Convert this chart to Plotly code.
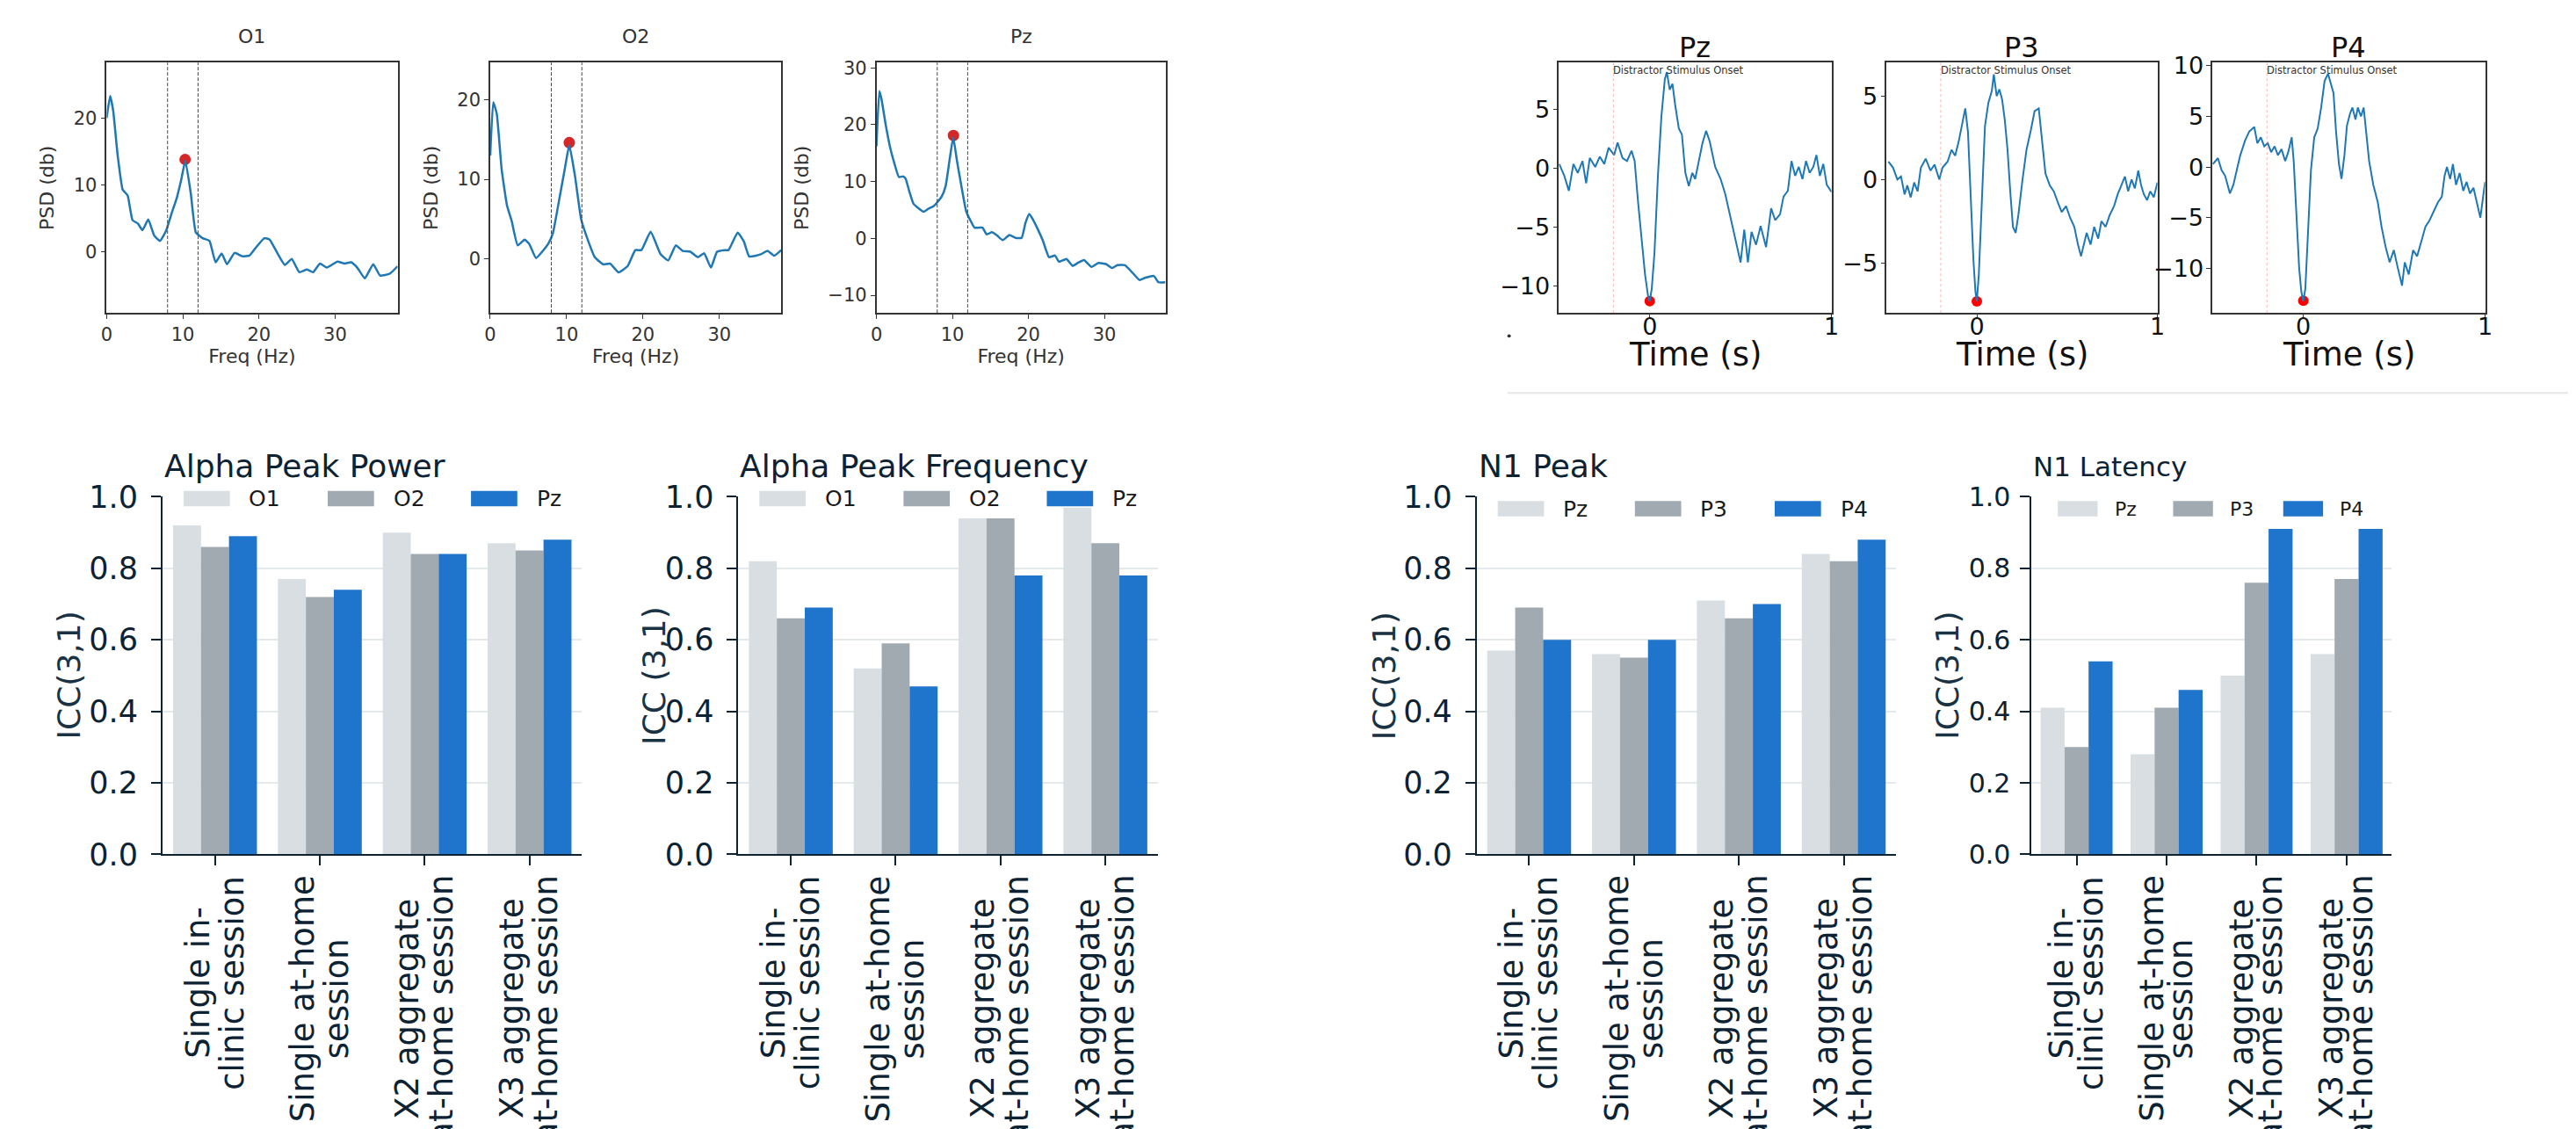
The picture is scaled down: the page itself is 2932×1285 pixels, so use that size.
import plotly.graph_objects as go

W, H = 2932, 1285

# ---------------- data: PSD (Freq Hz, dB) ----------------
psd_channels = ["O1", "O2", "Pz"]
psd_o1 = [(0, 20.0), (0.46, 23.3), (0.86, 21.1), (1.45, 14.4), (2.1, 9.3), (2.76, 8.4), (3.4, 4.7),
          (4.1, 4.2), (4.7, 3.2), (5.46, 4.8), (6.25, 2.4), (7.0, 1.6), (7.8, 3.1), (8.55, 5.8),
          (9.2, 8.0), (9.8, 10.8), (10.33, 13.6), (11.05, 8.7), (11.7, 2.9), (12.6, 2.0), (13.5, 1.6),
          (14.3, -1.6), (15.1, -0.3), (15.8, -1.9), (16.8, -0.2), (17.8, -0.7), (18.75, -0.6),
          (19.6, 0.6), (20.7, 2.0), (21.4, 1.8), (22.4, -0.2), (23.4, -2.0), (24.3, -1.1),
          (25.3, -3.1), (26.3, -2.7), (27.1, -3.1), (28.0, -1.8), (28.9, -2.4), (30.3, -1.5),
          (31.25, -1.8), (32.1, -1.6), (32.9, -2.4), (33.9, -4.0), (35.0, -1.9), (35.9, -3.6),
          (37.2, -3.3), (38.2, -2.2)]
psd_o2 = [(0, 13.0), (0.4, 19.7), (0.86, 18.2), (1.5, 11.2), (2.2, 6.7), (2.8, 4.8), (3.6, 1.7),
          (4.5, 2.4), (5.1, 1.9), (6.0, 0.1), (6.8, 0.9), (7.6, 1.9), (8.2, 3.2), (9.1, 7.8),
          (9.8, 11.5), (10.35, 14.3), (11.1, 10.4), (11.9, 5.0), (12.7, 2.6), (13.7, 0.2),
          (14.8, -0.7), (15.7, -0.6), (16.8, -1.7), (18.0, -0.9), (19.0, 1.1), (19.8, 1.1),
          (21.0, 3.4), (22.3, 0.6), (23.3, -0.2), (24.3, 1.7), (25.2, 1.0), (26.2, 0.9),
          (27.2, 0.2), (28.0, 0.7), (28.9, -1.1), (29.7, 0.9), (30.7, 1.1), (31.2, 1.1),
          (32.4, 3.3), (33.2, 2.2), (33.9, 0.3), (34.8, 0.4), (35.5, 0.6), (36.3, 1.0),
          (37.2, 0.4), (38.1, 1.1)]
psd_pz = [(0, 16.2), (0.38, 25.9), (0.65, 24.6), (1.23, 19.9), (1.8, 16.0), (2.38, 13.1),
          (2.95, 10.8), (3.53, 10.9), (3.84, 10.5), (4.3, 8.4), (4.87, 6.1), (5.45, 5.4),
          (6.2, 4.7), (6.8, 5.2), (7.55, 5.7), (8.0, 6.35), (8.6, 7.4), (9.1, 9.2), (9.6, 13.6),
          (10.1, 17.8), (10.6, 13.6), (11.2, 9.0), (11.8, 4.8), (12.35, 3.2), (12.9, 1.9),
          (13.5, 1.9), (13.96, 1.9), (14.5, 0.7), (15.2, 1.1), (15.8, 0.6), (16.6, -0.3),
          (17.5, 0.6), (18.3, 0.1), (19.1, 0.1), (19.6, 2.7), (20.1, 4.3), (20.6, 3.3),
          (21.2, 1.7), (21.9, -0.4), (22.7, -3.3), (23.5, -3.0), (24.0, -4.1), (25.0, -3.6),
          (25.8, -4.8), (26.5, -4.3), (27.3, -3.8), (28.3, -5.0), (29.2, -4.3), (30.2, -4.5),
          (31.0, -5.2), (31.7, -4.7), (32.7, -4.7), (33.6, -5.9), (34.6, -7.3), (35.4, -6.9),
          (36.5, -6.6), (37.1, -7.7), (38.0, -7.7)]
psd_peak_freq = [10.3, 10.35, 10.13]
psd_peak_db = [13.8, 14.6, 18.1]
alpha_band = [8, 12]
psd_xrange = [[0, 38.2], [0, 38.1], [0, 38.05]]
psd_yrange = [[-9.2, 28.3], [-6.8, 24.65], [-13.1, 30.9]]

# ---------------- data: ERP (time s, amplitude) ----------------
erp_channels = ["Pz", "P3", "P4"]
erp_pz = [(-0.498, 0.38), (-0.47, -0.63), (-0.445, -1.9), (-0.42, 0.38), (-0.396, -0.38),
          (-0.37, 0.63), (-0.35, -1.27), (-0.33, 0.89), (-0.30, 0.13), (-0.275, 1.0),
          (-0.25, 0.38), (-0.226, 1.77), (-0.196, 1.14), (-0.177, 2.2), (-0.15, 0.89),
          (-0.125, 0.63), (-0.10, 1.5), (-0.083, 0.63), (-0.064, -2.9), (-0.045, -5.9),
          (-0.026, -9.0), (-0.008, -11.0), (0.0, -11.3), (0.011, -10.25), (0.026, -7.2),
          (0.045, -0.63), (0.064, 4.4), (0.083, 7.6), (0.094, 8.2), (0.11, 6.7), (0.125, 7.2),
          (0.14, 5.4), (0.16, 3.4), (0.177, 2.9), (0.196, -0.38), (0.215, -1.5), (0.234, -0.38),
          (0.25, -0.9), (0.27, 0.63), (0.29, 2.15), (0.31, 3.2), (0.33, 2.3), (0.36, 0.13),
          (0.39, -0.9), (0.415, -2.15), (0.44, -3.9), (0.47, -5.9), (0.50, -8.0), (0.52, -5.2),
          (0.54, -8.0), (0.56, -5.4), (0.585, -6.5), (0.61, -4.9), (0.64, -6.7), (0.668, -3.4),
          (0.69, -4.4), (0.717, -3.9), (0.736, -2.4), (0.76, -1.9), (0.78, 0.63), (0.80, -0.63),
          (0.82, 0.13), (0.84, -0.9), (0.86, 0.63), (0.88, -0.38), (0.90, 0.13), (0.917, 1.14),
          (0.936, -0.63), (0.955, 0.38), (0.974, -1.4), (1.0, -2.0)]
erp_p3 = [(-0.49, 1.07), (-0.464, 0.71), (-0.44, 0.0), (-0.42, 0.18), (-0.40, -0.89),
          (-0.385, -0.36), (-0.366, -1.07), (-0.347, -0.18), (-0.328, -0.71), (-0.31, 0.71),
          (-0.283, 1.24), (-0.257, 0.53), (-0.234, 0.89), (-0.208, 0.0), (-0.19, 0.71),
          (-0.162, 1.07), (-0.14, 1.78), (-0.12, 1.42), (-0.10, 2.3), (-0.083, 3.2),
          (-0.064, 4.26), (-0.049, 2.84), (-0.034, -1.42), (-0.019, -4.8), (-0.0075, -6.75),
          (0.0, -7.3), (0.011, -5.7), (0.026, -1.42), (0.045, 3.2), (0.064, 4.6), (0.083, 5.3),
          (0.094, 6.3), (0.11, 5.0), (0.125, 5.4), (0.14, 4.8), (0.155, 3.55), (0.17, 1.78),
          (0.185, -0.71), (0.2, -2.84), (0.215, -3.2), (0.23, -2.13), (0.253, 0.0),
          (0.275, 1.78), (0.30, 3.0), (0.32, 4.1), (0.343, 4.26), (0.358, 2.66), (0.38, 0.36),
          (0.404, -0.36), (0.426, -0.71), (0.45, -1.42), (0.47, -1.95), (0.494, -1.6),
          (0.517, -2.3), (0.54, -2.84), (0.56, -3.9), (0.577, -4.6), (0.592, -3.9),
          (0.608, -3.2), (0.63, -3.9), (0.65, -2.84), (0.672, -3.55), (0.69, -2.5),
          (0.713, -2.84), (0.736, -2.13), (0.76, -1.6), (0.78, -0.89), (0.80, -0.36),
          (0.82, 0.18), (0.838, -0.71), (0.857, 0.0), (0.875, -0.53), (0.894, 0.53),
          (0.91, -0.36), (0.925, -0.89), (0.943, -1.24), (0.96, -0.71), (0.98, -1.07),
          (1.0, -0.18)]
erp_p4 = [(-0.498, 0.29), (-0.47, 0.88), (-0.45, -0.29), (-0.43, -0.88), (-0.404, -2.6),
          (-0.385, -1.76), (-0.366, -0.29), (-0.347, 1.17), (-0.32, 2.64), (-0.298, 3.5),
          (-0.27, 3.96), (-0.253, 2.35), (-0.234, 2.93), (-0.215, 2.05), (-0.196, 2.35),
          (-0.177, 1.47), (-0.158, 2.05), (-0.14, 1.17), (-0.12, 1.76), (-0.10, 0.59),
          (-0.083, 1.47), (-0.064, 2.93), (-0.053, 0.59), (-0.038, -5.3), (-0.023, -9.97),
          (-0.011, -12.3), (0.0, -13.25), (0.011, -12.0), (0.026, -6.2), (0.042, -0.29),
          (0.06, 2.93), (0.079, 3.8), (0.098, 5.87), (0.117, 8.5), (0.136, 9.2), (0.15, 8.2),
          (0.166, 7.3), (0.18, 3.5), (0.196, 0.29), (0.21, -1.17), (0.226, 1.17), (0.24, 4.1),
          (0.257, 5.28), (0.27, 5.87), (0.287, 4.7), (0.30, 5.87), (0.317, 5.0), (0.332, 5.87),
          (0.347, 3.5), (0.362, 0.59), (0.385, -1.76), (0.41, -3.5), (0.43, -5.87),
          (0.453, -7.9), (0.475, -9.4), (0.498, -8.2), (0.52, -9.97), (0.543, -11.7),
          (0.558, -9.4), (0.58, -10.6), (0.604, -8.2), (0.626, -8.8), (0.65, -7.3),
          (0.672, -5.87), (0.694, -5.28), (0.717, -4.4), (0.74, -3.5), (0.762, -2.93),
          (0.777, -0.88), (0.79, 0.0), (0.808, -1.17), (0.823, 0.29), (0.84, -1.76),
          (0.86, -0.59), (0.88, -2.35), (0.898, -1.47), (0.917, -2.6), (0.936, -2.05),
          (0.955, -3.5), (0.974, -5.0), (0.985, -3.5), (1.0, -1.47)]
n1_time = [0.0, 0.0, 0.0]
n1_amp = [-11.3, -7.3, -13.2]
onset_time = -0.2
onset_label = "Distractor Stimulus Onset"
erp_xrange = [-0.5, 1.0]
erp_yrange = [[-12.3, 9.0], [-8.0, 7.0], [-14.4, 10.3]]

# ---------------- data: ICC bar charts ----------------
sessions = ["Single in-\nclinic session", "Single at-home\nsession",
            "X2 aggregate\nat-home session", "X3 aggregate\nat-home session"]
apower_o1 = [0.92, 0.77, 0.90, 0.87]
apower_o2 = [0.86, 0.72, 0.84, 0.85]
apower_pz = [0.89, 0.74, 0.84, 0.88]
afreq_o1 = [0.82, 0.52, 0.94, 0.97]
afreq_o2 = [0.66, 0.59, 0.94, 0.87]
afreq_pz = [0.69, 0.47, 0.78, 0.78]
n1peak_pz = [0.57, 0.56, 0.71, 0.84]
n1peak_p3 = [0.69, 0.55, 0.66, 0.82]
n1peak_p4 = [0.60, 0.60, 0.70, 0.88]
n1lat_pz = [0.41, 0.28, 0.50, 0.56]
n1lat_p3 = [0.30, 0.41, 0.76, 0.77]
n1lat_p4 = [0.54, 0.46, 0.91, 0.91]
bar_titles = ["Alpha Peak Power", "Alpha Peak Frequency", "N1 Peak", "N1 Latency"]
bar_ylabels = ["ICC(3,1)", "ICC (3,1)", "ICC(3,1)", "ICC(3,1)"]
bar_series = [
    (["O1", "O2", "Pz"], [apower_o1, apower_o2, apower_pz]),
    (["O1", "O2", "Pz"], [afreq_o1, afreq_o2, afreq_pz]),
    (["Pz", "P3", "P4"], [n1peak_pz, n1peak_p3, n1peak_p4]),
    (["Pz", "P3", "P4"], [n1lat_pz, n1lat_p3, n1lat_p4]),
]

# ---------------- styling / layout ----------------
BAR_COLORS = ["#d8dee1", "#a1aab0", "#1f74cc"]
NAVY = "#0d2233"
LINE_BLUE = "#1f77b4"
FONT = "DejaVu Sans"

# DejaVu Sans advance widths (em) used to centre the rotated multi-line labels
GLYPH_EM = {"S": 0.635, "i": 0.278, "n": 0.634, "g": 0.635, "l": 0.278, "e": 0.615, " ": 0.318,
            "-": 0.361, "c": 0.550, "s": 0.521, "o": 0.612, "a": 0.613, "t": 0.392, "h": 0.634,
            "m": 0.974, "X": 0.684, "2": 0.636, "3": 0.636, "r": 0.411}


def text_px(s, size):
    return sum(GLYPH_EM.get(ch, 0.6) for ch in s) * size


def xd(a, b):
    return [a / W, b / W]


def yd(top, bottom):
    return [1 - bottom / H, 1 - top / H]


def px(v):
    return v / W


def py(v):
    return 1 - v / H


TOP_ROW = (53, 347)
psd_boxes = [(115, 448), (554, 887), (996, 1327)]
erp_boxes = [(1777, 2089), (2152, 2462), (2525, 2837)]
BAR_ROW = (563, 983)
bar_boxes = [(179, 659), (838, 1318), (1683, 2163), (2318, 2730)]
# the last panel of the source is horizontally squeezed: narrower horizontal text / spacing
hscale = [1.0, 1.0, 1.0, 0.86]
tick_font = [35, 35, 35, 30]
title_font = [36, 36, 36, 31]
legend_font = [25, 25, 25, 22]
ytick_standoff = [8, 8, 8, 5]
legend_offsets = [[24, 189, 353], [24, 189, 353], [24, 181, 341], [30, 162, 288]]
legend_ytop = [556, 556, 568, 568]
bar_ylabel_x = [72, 742, 1578, 2222]
label_top = 1012

layout = dict(width=W, height=H, margin=dict(l=0, r=0, t=0, b=0),
              paper_bgcolor="white", plot_bgcolor="white",
              font=dict(family=FONT, color="#222"), showlegend=False,
              barmode="group", bargap=0.2, bargroupgap=0)
shapes = []
annotations = []
fig = go.Figure()


def ax_name(i, axis):
    return axis + ("" if i == 1 else str(i))


# ---- PSD panels ----
psd_data = [psd_o1, psd_o2, psd_pz]
for k in range(3):
    i = k + 1
    xs = [p[0] for p in psd_data[k]]
    ys = [p[1] for p in psd_data[k]]
    fig.add_trace(go.Scatter(x=[psd_peak_freq[k]], y=[psd_peak_db[k]], mode="markers",
                             marker=dict(color="#d62728", size=13),
                             xaxis=ax_name(i, "x"), yaxis=ax_name(i, "y")))
    fig.add_trace(go.Scatter(x=xs, y=ys, mode="lines",
                             line=dict(color=LINE_BLUE, width=2.5, shape="spline", smoothing=0.4),
                             xaxis=ax_name(i, "x"), yaxis=ax_name(i, "y")))
    common = dict(showline=True, mirror=True, linecolor="#333", linewidth=1.5,
                  ticks="outside", ticklen=5, tickcolor="#333",
                  tickfont=dict(size=21, color="#333"), showgrid=False, zeroline=False)
    layout[ax_name(i, "xaxis")] = dict(common, domain=xd(*psd_boxes[k]), range=psd_xrange[k],
                                       tickvals=[0, 10, 20, 30], anchor=ax_name(i, "y"),
                                       title=dict(text="Freq (Hz)", font=dict(size=22, color="#333"),
                                                  standoff=4))
    layout[ax_name(i, "yaxis")] = dict(common, domain=yd(*TOP_ROW), range=psd_yrange[k],
                                       dtick=10, anchor=ax_name(i, "x"),
                                       title=dict(text="PSD (db)", font=dict(size=22, color="#333"),
                                                  standoff=16))
    for f in alpha_band:
        shapes.append(dict(type="line", xref=ax_name(i, "x"), yref=ax_name(i, "y") + " domain",
                           x0=f, x1=f, y0=0, y1=1,
                           line=dict(color="#444", width=1, dash="4px,2px")))
    annotations.append(dict(text=psd_channels[k], xref="paper", yref="paper",
                            x=px((psd_boxes[k][0] + psd_boxes[k][1]) / 2), y=py(22),
                            xanchor="center", yanchor="middle", showarrow=False,
                            font=dict(size=22, color="#333")))

# ---- ERP panels ----
erp_data = [erp_pz, erp_p3, erp_p4]
for k in range(3):
    i = k + 4
    xs = [p[0] for p in erp_data[k]]
    ys = [p[1] for p in erp_data[k]]
    fig.add_trace(go.Scatter(x=[n1_time[k]], y=[n1_amp[k]], mode="markers",
                             marker=dict(color="#ff0000", size=12),
                             xaxis=ax_name(i, "x"), yaxis=ax_name(i, "y")))
    fig.add_trace(go.Scatter(x=xs, y=ys, mode="lines", line=dict(color=LINE_BLUE, width=2),
                             xaxis=ax_name(i, "x"), yaxis=ax_name(i, "y")))
    common = dict(showline=True, mirror=True, linecolor="#333", linewidth=1.5,
                  ticks="outside", ticklen=5, tickcolor="#333",
                  tickfont=dict(size=27, color="#111"), showgrid=False, zeroline=False)
    layout[ax_name(i, "xaxis")] = dict(common, domain=xd(*erp_boxes[k]), range=erp_xrange,
                                       tickvals=[0, 1], anchor=ax_name(i, "y"),
                                       ticklabelstandoff=-14)
    layout[ax_name(i, "yaxis")] = dict(common, domain=yd(*TOP_ROW), range=erp_yrange[k],
                                       dtick=5, anchor=ax_name(i, "x"), ticklabelstandoff=-2)
    shapes.append(dict(type="line", xref=ax_name(i, "x"), yref=ax_name(i, "y") + " domain",
                       x0=onset_time, x1=onset_time, y0=0, y1=1,
                       line=dict(color="rgba(240,120,120,0.55)", width=1, dash="dot")))
    annotations.append(dict(text=onset_label, xref=ax_name(i, "x"), yref=ax_name(i, "y") + " domain",
                            x=onset_time, y=1, xanchor="left", yanchor="top", showarrow=False,
                            xshift=-2, font=dict(size=11.5, color="#333")))
    cx = px((erp_boxes[k][0] + erp_boxes[k][1]) / 2)
    annotations.append(dict(text=erp_channels[k], xref="paper", yref="paper", x=cx, y=py(35),
                            xanchor="center", yanchor="middle", showarrow=False,
                            font=dict(size=32, color="#111")))
    annotations.append(dict(text="Time (s)", xref="paper", yref="paper", x=cx, y=py(396),
                            xanchor="center", yanchor="middle", showarrow=False,
                            font=dict(size=37, color="#111")))

# separator line and stray dot from the source figure
shapes.append(dict(type="line", xref="paper", yref="paper", x0=px(1718), x1=1, y0=py(441), y1=py(441),
                   line=dict(color="#e6e6e6", width=2)))
shapes.append(dict(type="circle", xref="paper", yref="paper", x0=px(1718), x1=px(1722),
                   y0=py(376), y1=py(372), fillcolor="#333", line=dict(width=0)))

# ---- ICC bar charts ----
for k in range(4):
    i = k + 7
    sc = hscale[k]
    names, series = bar_series[k]
    for s in range(3):
        fig.add_trace(go.Bar(x=sessions, y=series[s], name=names[s],
                             marker=dict(color=BAR_COLORS[s], line=dict(width=0)),
                             xaxis=ax_name(i, "x"), yaxis=ax_name(i, "y")))
    layout[ax_name(i, "xaxis")] = dict(domain=xd(*bar_boxes[k]), type="category",
                                       range=[-0.5, 3.5], showticklabels=False,
                                       showline=True, linecolor=NAVY, linewidth=2,
                                       ticks="outside", ticklen=11, tickwidth=2, tickcolor=NAVY,
                                       showgrid=False, zeroline=False, anchor=ax_name(i, "y"))
    layout[ax_name(i, "yaxis")] = dict(domain=yd(*BAR_ROW), range=[0, 1.0],
                                       tickvals=[0, 0.2, 0.4, 0.6, 0.8, 1.0], tickformat=".1f",
                                       showline=True, linecolor=NAVY, linewidth=2,
                                       ticks="outside", ticklen=11, tickwidth=2, tickcolor=NAVY,
                                       ticklabelstandoff=ytick_standoff[k],
                                       tickfont=dict(size=tick_font[k], color=NAVY),
                                       showgrid=True, gridcolor="#e4e9eb", gridwidth=2,
                                       zeroline=False, anchor=ax_name(i, "x"))
    left = bar_boxes[k][0]
    # y-axis title
    annotations.append(dict(text=bar_ylabels[k], xref="paper", yref="paper",
                            x=px(bar_ylabel_x[k]), y=py(sum(BAR_ROW) / 2),
                            xanchor="center", yanchor="middle", textangle=-90, showarrow=False,
                            font=dict(size=36, color="#1a3344")))
    annotations.append(dict(text=bar_titles[k], xref="paper", yref="paper", x=px(left), y=py(527),
                            xanchor="left", yanchor="middle", showarrow=False,
                            font=dict(size=title_font[k], color=NAVY)))
    # legend (patch + label) drawn inside the top of the axes
    for s in range(3):
        x0 = left + legend_offsets[k][s]
        yt = legend_ytop[k]
        shapes.append(dict(type="rect", xref="paper", yref="paper", x0=px(x0), x1=px(x0 + 53 * sc),
                           y0=py(yt + 18), y1=py(yt), fillcolor=BAR_COLORS[s], line=dict(width=0)))
        annotations.append(dict(text=names[s], xref="paper", yref="paper", x=px(x0 + 73 * sc),
                                y=py(yt + 9), xanchor="left", yanchor="middle", showarrow=False,
                                font=dict(size=legend_font[k], color="#1a1a1a")))
    # rotated, centred multi-line category labels (one annotation per line)
    fsize = 37
    line_gap = 39 * sc
    for cat in sessions:
        lines = cat.split("\n")
        longest = max(text_px(ln, fsize) for ln in lines)
        ycenter = label_top + longest / 2
        for j, ln in enumerate(lines):
            annotations.append(dict(text=ln, xref=ax_name(i, "x"), x=cat,
                                    xshift=(j - (len(lines) - 1) / 2) * line_gap,
                                    yref="paper", y=py(ycenter), xanchor="center", yanchor="middle",
                                    textangle=-90, showarrow=False,
                                    font=dict(size=fsize, color=NAVY)))

layout["shapes"] = shapes
layout["annotations"] = annotations
fig.update_layout(**layout)
fig.write_html("out.html", config={"displayModeBar": False},
               post_script="document.body.style.margin='0';document.body.style.overflow='hidden';")
